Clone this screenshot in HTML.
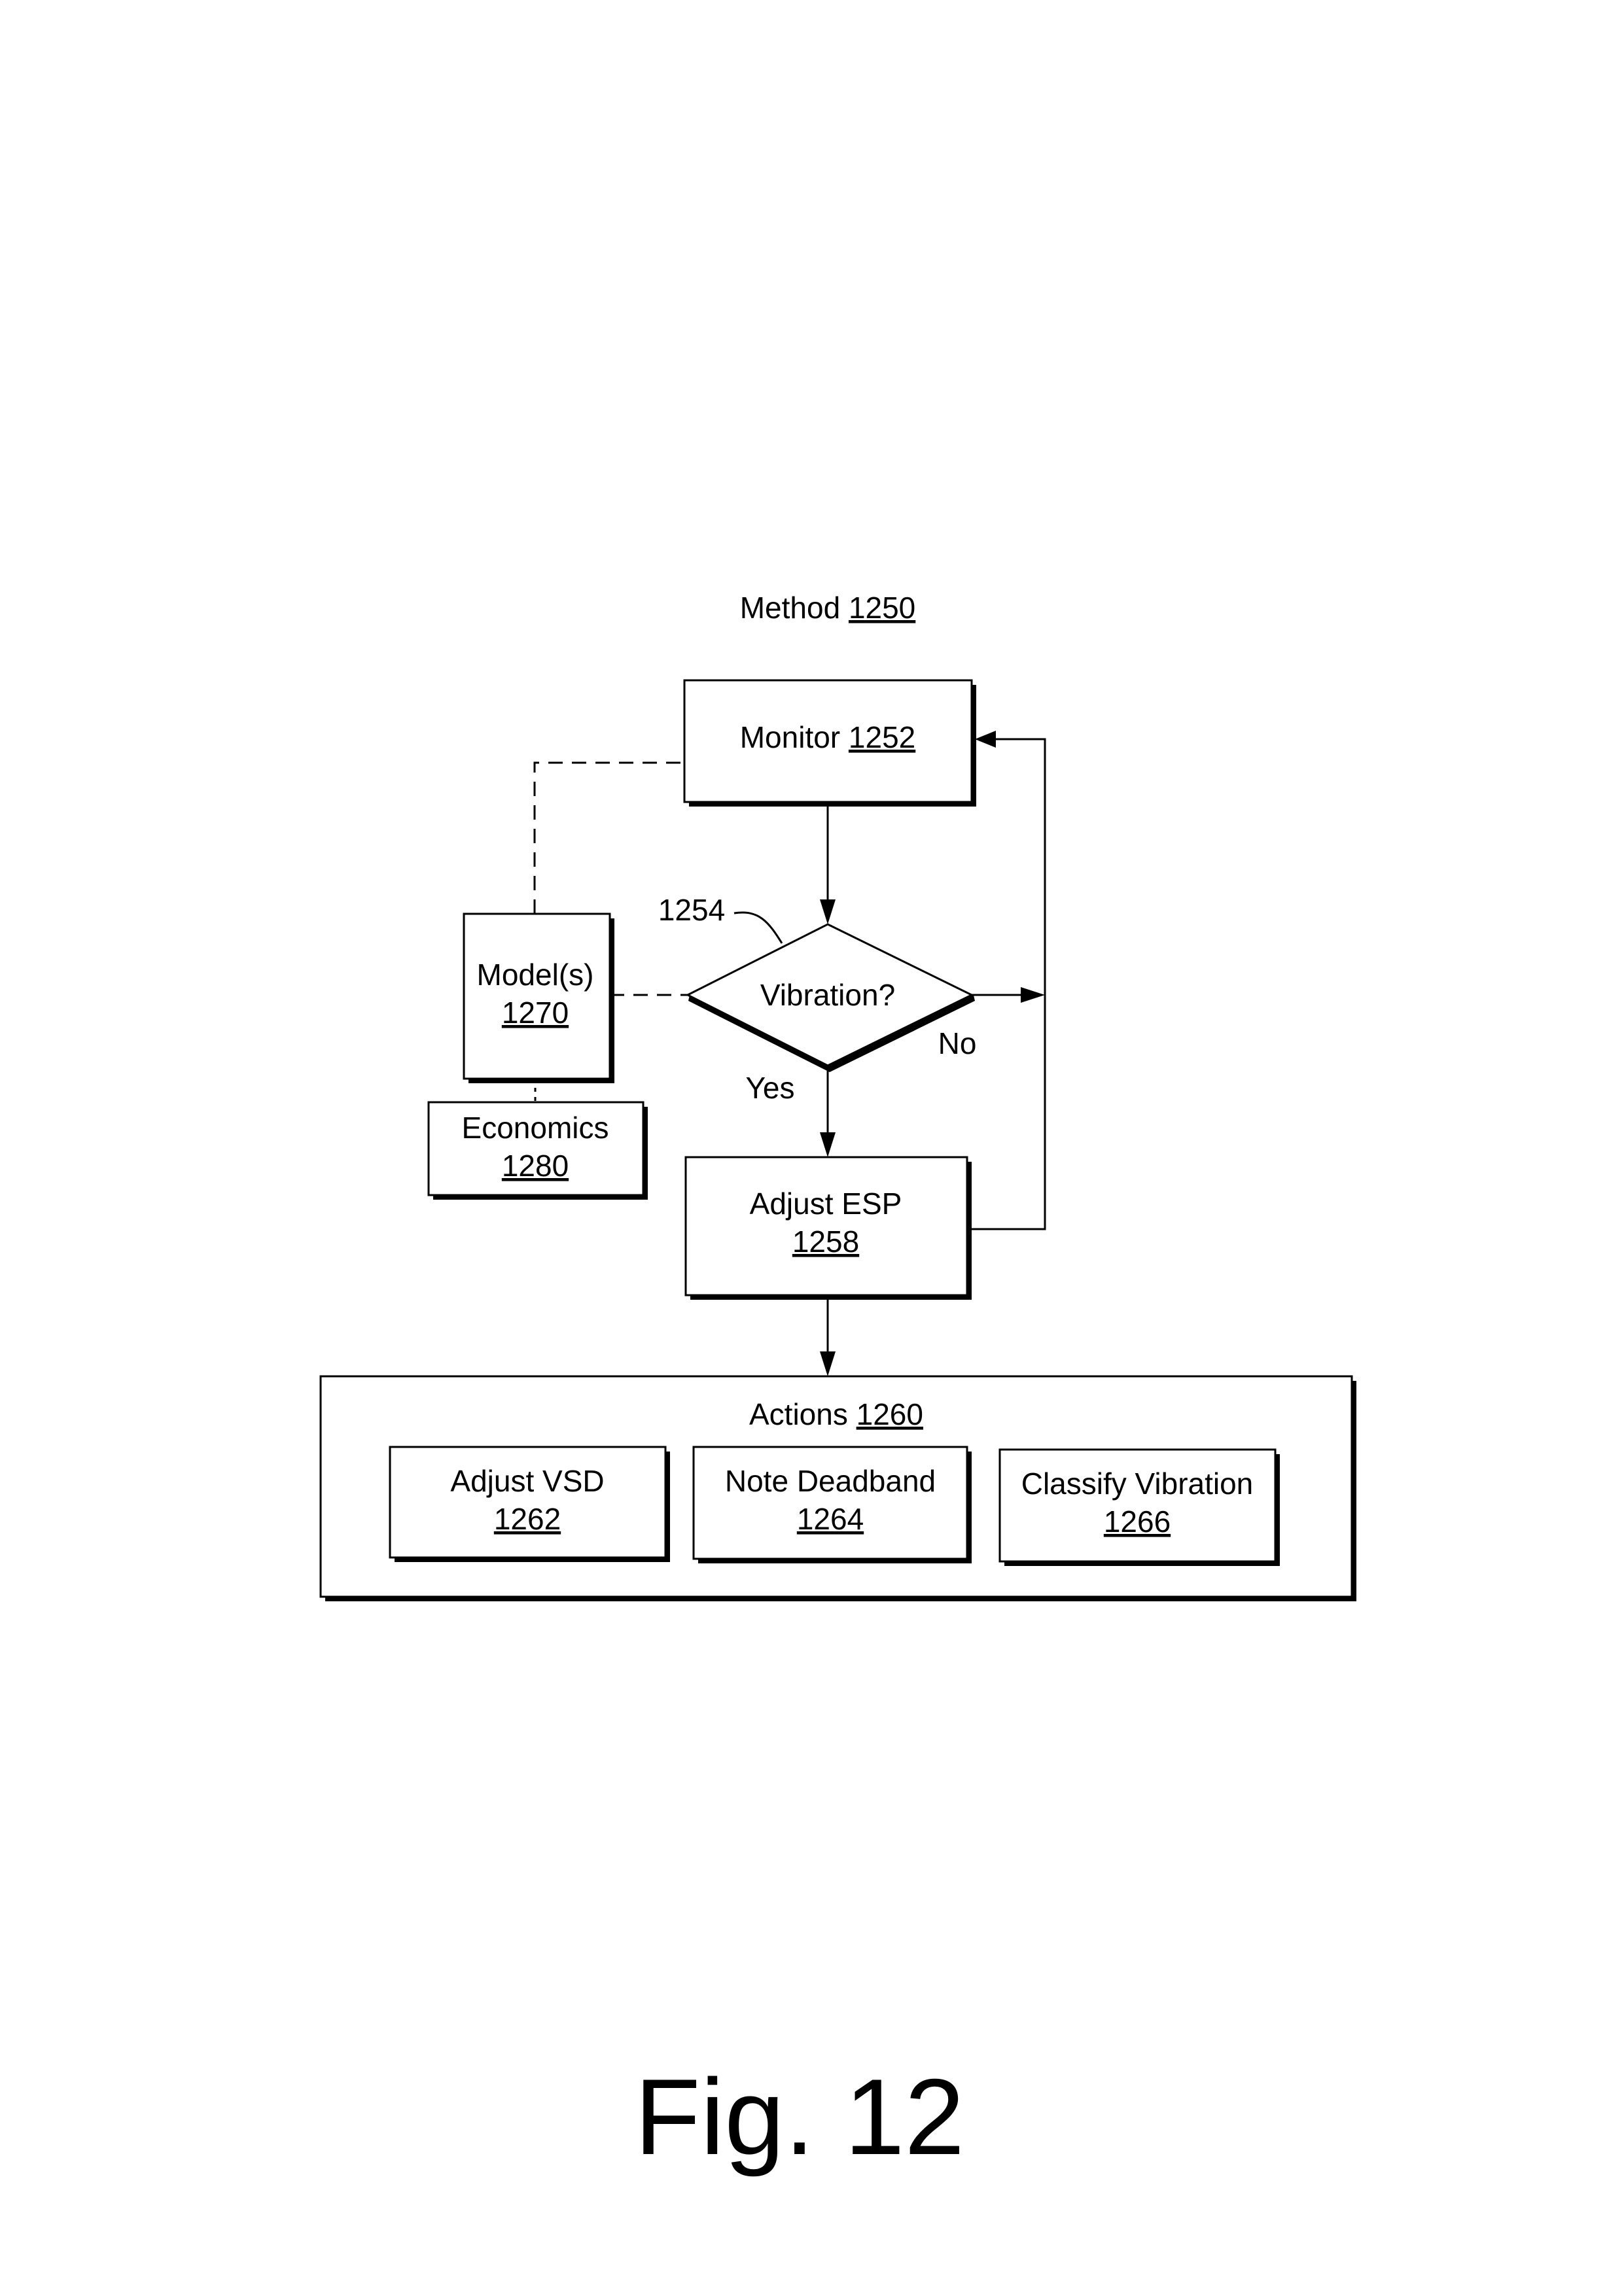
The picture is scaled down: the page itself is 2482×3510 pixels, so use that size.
<!DOCTYPE html>
<html><head><meta charset="utf-8"><style>
html,body{margin:0;padding:0;background:#fff}
svg{display:block}
text{font-family:"Liberation Sans",Arial,sans-serif;fill:#000}
</style></head><body>
<svg width="2482" height="3510" viewBox="0 0 2482 3510" xmlns="http://www.w3.org/2000/svg">
<defs>
<marker id="ah" markerWidth="10" markerHeight="8" refX="10" refY="4" orient="auto" markerUnits="userSpaceOnUse" viewBox="0 0 10 8">
</marker>
</defs>
<g font-size="46" text-anchor="middle">
<text x="1265" y="945">Method <tspan text-decoration="underline">1250</tspan></text>

<!-- Monitor -->
<rect x="1053" y="1047" width="439" height="186" fill="#000"/>
<rect x="1046" y="1040" width="439" height="186" fill="#fff" stroke="#000" stroke-width="3"/>
<text x="1265" y="1143">Monitor <tspan text-decoration="underline">1252</tspan></text>

<!-- arrow monitor -> diamond -->
<line x1="1265" y1="1226" x2="1265" y2="1385" stroke="#000" stroke-width="3"/>
<polygon points="1253,1375 1277,1375 1265,1413" fill="#000"/>

<!-- diamond -->
<polygon points="1051,1521 1265,1629 1485,1521" fill="none" stroke="#000" stroke-width="9" transform="translate(3,5)"/>
<polygon points="1265,1413 1485,1521 1265,1629 1051,1521" fill="#fff" stroke="#000" stroke-width="3"/>
<text x="1265" y="1537">Vibration?</text>
<text x="1057" y="1407">1254</text>
<path d="M1122,1396 C1160,1390 1175,1410 1195,1442" fill="none" stroke="#000" stroke-width="3"/>

<!-- No arrow -->
<line x1="1485" y1="1521" x2="1570" y2="1521" stroke="#000" stroke-width="3"/>
<polygon points="1560,1509 1560,1533 1597,1521" fill="#000"/>
<text x="1463" y="1611">No</text>
<!-- loop right line -->
<polyline points="1478,1879 1597,1879 1597,1130 1520,1130" fill="none" stroke="#000" stroke-width="3"/>
<polygon points="1522,1117 1522,1143 1490,1130" fill="#000"/>

<!-- Yes arrow -->
<text x="1177" y="1679">Yes</text>
<line x1="1265" y1="1629" x2="1265" y2="1740" stroke="#000" stroke-width="3"/>
<polygon points="1253,1731 1277,1731 1265,1769" fill="#000"/>

<!-- Adjust ESP -->
<rect x="1055" y="1776" width="430" height="211" fill="#000"/>
<rect x="1048" y="1769" width="430" height="211" fill="#fff" stroke="#000" stroke-width="3"/>
<text x="1262" y="1856">Adjust ESP</text>
<text x="1262" y="1914" text-decoration="underline">1258</text>

<!-- Model -->
<rect x="716" y="1404" width="223" height="252" fill="#000"/>
<rect x="709" y="1397" width="223" height="252" fill="#fff" stroke="#000" stroke-width="3"/>
<text x="818" y="1506">Model(s)</text>
<text x="818" y="1564" text-decoration="underline">1270</text>
<!-- dashed -->
<polyline points="817,1397 817,1166 1046,1166" fill="none" stroke="#000" stroke-width="3" stroke-dasharray="22,14"/>
<line x1="932" y1="1521" x2="1051" y2="1521" stroke="#000" stroke-width="3" stroke-dasharray="22,14"/>
<line x1="818" y1="1649" x2="818" y2="1685" stroke="#000" stroke-width="3" stroke-dasharray="6,8"/>

<!-- Economics -->
<rect x="662" y="1692" width="328" height="142" fill="#000"/>
<rect x="655" y="1685" width="328" height="142" fill="#fff" stroke="#000" stroke-width="3"/>
<text x="818" y="1740">Economics</text>
<text x="818" y="1798" text-decoration="underline">1280</text>

<!-- arrow to actions -->
<line x1="1265" y1="1980" x2="1265" y2="2076" stroke="#000" stroke-width="3"/>
<polygon points="1253,2066 1277,2066 1265,2104" fill="#000"/>

<!-- Actions -->
<rect x="497" y="2111" width="1576" height="337" fill="#000"/>
<rect x="490" y="2104" width="1576" height="337" fill="#fff" stroke="#000" stroke-width="3"/>
<text x="1278" y="2178">Actions <tspan text-decoration="underline">1260</tspan></text>

<rect x="603" y="2219" width="421" height="169" fill="#000"/>
<rect x="596" y="2212" width="421" height="169" fill="#fff" stroke="#000" stroke-width="3"/>
<text x="806" y="2280">Adjust VSD</text>
<text x="806" y="2338" text-decoration="underline">1262</text>

<rect x="1067" y="2219" width="418" height="171" fill="#000"/>
<rect x="1060" y="2212" width="418" height="171" fill="#fff" stroke="#000" stroke-width="3"/>
<text x="1269" y="2280">Note Deadband</text>
<text x="1269" y="2338" text-decoration="underline">1264</text>

<rect x="1535" y="2223" width="421" height="171" fill="#000"/>
<rect x="1528" y="2216" width="421" height="171" fill="#fff" stroke="#000" stroke-width="3"/>
<text x="1738" y="2284">Classify Vibration</text>
<text x="1738" y="2342" text-decoration="underline">1266</text>

<text x="1222" y="3293" font-size="165">Fig. 12</text>
</g>
</svg>
</body></html>
